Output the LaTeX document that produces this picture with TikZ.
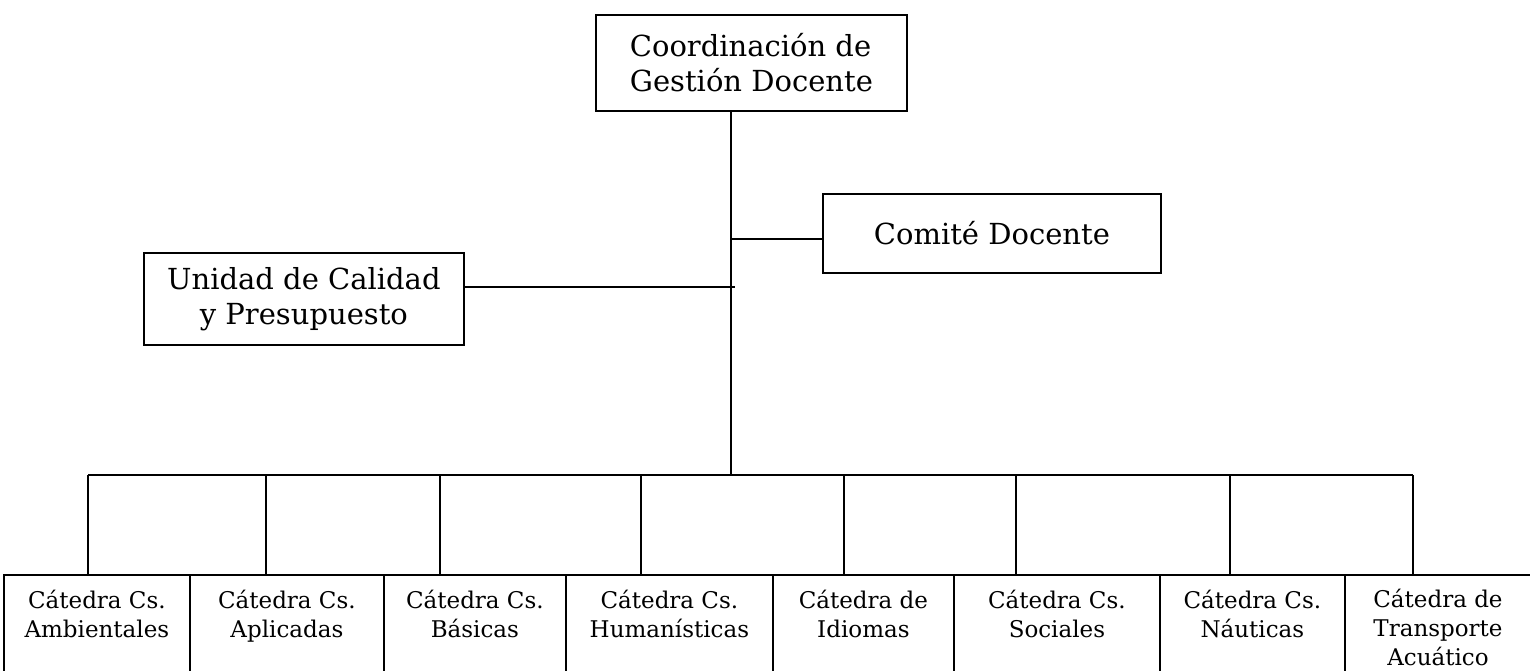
\documentclass[tikz,border=0pt]{standalone}
\usepackage{fontspec}
\setmainfont{DejaVu Serif}
\begin{document}
\begin{tikzpicture}[x=1pt,y=-1pt,
  box/.style={draw, line width=1.8pt, inner sep=0pt, anchor=north west},
  big/.style={font=\fontsize{29}{35}\selectfont, align=center},
  small/.style={font=\fontsize{23}{29}\selectfont, align=center, inner sep=0pt, anchor=north},
  conn/.style={line width=1.8pt}]
\useasboundingbox (0,0) rectangle (1530,670);
% upper boxes
\node[box, big, align=left, minimum width=311pt, minimum height=96pt] (top) at (595,14) {Coordinación de\\Gestión Docente};
\node[box, big, minimum width=338pt, minimum height=79pt] (com) at (822,193) {Comité Docente};
\node[box, big, minimum width=320pt, minimum height=92pt] (uni) at (143,252) {Unidad de Calidad\\y Presupuesto};
% bottom boxes
\node[box, minimum width=186pt, minimum height=100pt] (b1) at (3,574) {};
\node[box, minimum width=194pt, minimum height=100pt] (b2) at (189,574) {};
\node[box, minimum width=182pt, minimum height=100pt] (b3) at (383,574) {};
\node[box, minimum width=207pt, minimum height=100pt] (b4) at (565,574) {};
\node[box, minimum width=181pt, minimum height=100pt] (b5) at (772,574) {};
\node[box, minimum width=206pt, minimum height=100pt] (b6) at (953,574) {};
\node[box, minimum width=185pt, minimum height=100pt] (b7) at (1159,574) {};
\node[box, minimum width=200pt, minimum height=100pt] (b8) at (1344,574) {};
\node[small] (t1) at ([yshift=-16pt]b1.north) {Cátedra Cs.\\Ambientales};
\node[small] (t2) at ([yshift=-16pt]b2.north) {Cátedra Cs.\\Aplicadas};
\node[small] (t3) at ([yshift=-16pt]b3.north) {Cátedra Cs.\\Básicas};
\node[small] (t4) at ([yshift=-16pt]b4.north) {Cátedra Cs.\\Humanísticas};
\node[small] (t5) at ([yshift=-16pt]b5.north) {Cátedra de\\Idiomas};
\node[small] (t6) at ([yshift=-16pt]b6.north) {Cátedra Cs.\\Sociales};
\node[small] (t7) at ([yshift=-16pt]b7.north) {Cátedra Cs.\\Náuticas};
\node[small] (t8) at ([yshift=-15pt]b8.north west) [xshift=94pt] {Cátedra de\\Transporte\\Acuático};
% connectors
\coordinate (spine) at (731,475);
\coordinate (jc) at (731,239);
\coordinate (ju) at (735,287);
\draw[conn] (top.south -| spine) -- (spine);
\draw[conn] (jc) -- (jc -| com.west);
\draw[conn] (uni.east |- ju) -- (ju);
\coordinate (d1) at (88,475);
\coordinate (d2) at (266,475);
\coordinate (d3) at (440,475);
\coordinate (d4) at (641,475);
\coordinate (d5) at (844,475);
\coordinate (d6) at (1016,475);
\coordinate (d7) at (1230,475);
\coordinate (d8) at (1413,475);
\draw[conn] (d1) -- (d8);
\foreach \i in {1,...,8} {\draw[conn] (d\i) -- (d\i |- b\i.north);}
\end{tikzpicture}
\end{document}
